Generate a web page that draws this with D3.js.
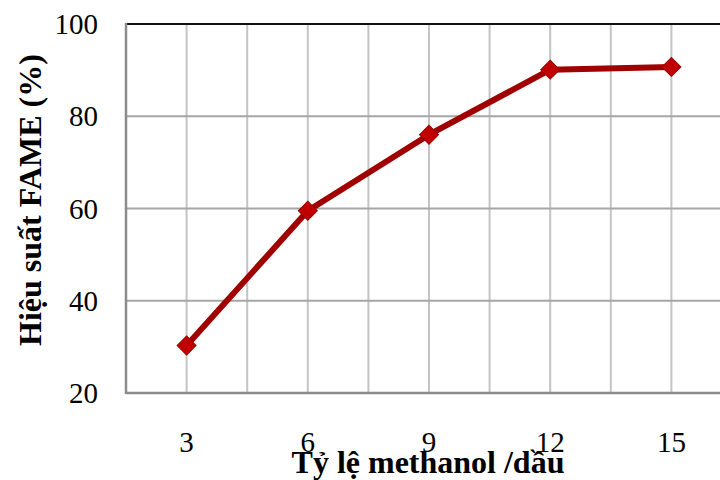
<!DOCTYPE html>
<html>
<head>
<meta charset="utf-8">
<script src="https://cdn.jsdelivr.net/npm/d3@7"></script>
<style>
  html, body { margin: 0; padding: 0; background: #fff; }
  svg { display: block; font-family: "Liberation Serif", "Times New Roman", serif; }
</style>
</head>
<body>
<svg id="chart" width="720" height="480"></svg>
<script>
// Methanol/oil molar ratio vs FAME yield
const ratios = ["3", "6", "9", "12", "15"];
const yieldValues = [30.3, 59.5, 76.0, 90.1, 90.7];
const yTicks = [20, 40, 60, 80, 100];
const xTitle = "Tỷ lệ methanol /dầu";
const yTitle = "Hiệu suất FAME (%)";

const svg = d3.select("#chart");
const plotLeft = 126, plotRight = 732, plotTop = 24, plotBottom = 393;

const x = d3.scaleBand().domain(ratios).range([plotLeft, plotRight]).padding(0);
const bw = x.bandwidth();
const cx = d => x(d) + bw / 2;
const y = d3.scaleLinear().domain([20, 100]).range([plotBottom, plotTop]);

// vertical gridlines at category centres and band edges
const vLines = [];
ratios.forEach(r => { vLines.push(x(r)); vLines.push(cx(r)); });
vLines.push(plotRight);
svg.append("g").selectAll("line").data(vLines.filter(v => v > plotLeft)).join("line")
  .attr("x1", d => d).attr("x2", d => d)
  .attr("y1", plotTop).attr("y2", plotBottom)
  .attr("stroke", "#c4c4c4").attr("stroke-width", 2);

// horizontal gridlines
svg.append("g").selectAll("line").data(yTicks.filter(t => t > 20 && t < 100)).join("line")
  .attr("x1", plotLeft).attr("x2", plotRight)
  .attr("y1", d => y(d)).attr("y2", d => y(d))
  .attr("stroke", "#a6a6a6").attr("stroke-width", 2);

// top border
svg.append("line")
  .attr("x1", plotLeft).attr("x2", plotRight)
  .attr("y1", y(100)).attr("y2", y(100))
  .attr("stroke", "#111").attr("stroke-width", 2);

// axes lines
svg.append("line")
  .attr("x1", plotLeft).attr("x2", plotLeft).attr("y1", plotTop - 1).attr("y2", plotBottom + 1)
  .attr("stroke", "#8c8c8c").attr("stroke-width", 2.5);
svg.append("line")
  .attr("x1", plotLeft).attr("x2", plotRight).attr("y1", plotBottom).attr("y2", plotBottom)
  .attr("stroke", "#8c8c8c").attr("stroke-width", 2.5);

// y tick labels
svg.append("g").selectAll("text").data(yTicks).join("text")
  .attr("x", 98).attr("y", d => y(d))
  .attr("text-anchor", "end").attr("dominant-baseline", "central")
  .attr("font-size", 29).attr("fill", "#000")
  .text(d => d);

// x tick labels
svg.append("g").selectAll("text").data(ratios).join("text")
  .attr("x", d => cx(d)).attr("y", 452)
  .attr("text-anchor", "middle")
  .attr("font-size", 29).attr("fill", "#000")
  .text(d => d);

// axis titles
svg.append("text")
  .attr("x", 428).attr("y", 473)
  .attr("text-anchor", "middle")
  .attr("font-size", 32).attr("font-weight", "bold")
  .text(xTitle);
svg.append("text")
  .attr("transform", "translate(41,200) rotate(-90)")
  .attr("text-anchor", "middle")
  .attr("font-size", 32).attr("font-weight", "bold")
  .text(yTitle);

// series line
const line = d3.line().x((d, i) => cx(ratios[i])).y(d => y(d));
svg.append("path").datum(yieldValues)
  .attr("d", line)
  .attr("fill", "none").attr("stroke", "#a00000").attr("stroke-width", 6)
  .attr("stroke-linejoin", "round");

// diamond markers
const sym = d3.symbol().type(d3.symbolSquare).size(180);
svg.append("g").selectAll("path").data(yieldValues).join("path")
  .attr("d", sym)
  .attr("transform", (d, i) => `translate(${cx(ratios[i])},${y(d)}) rotate(45)`)
  .attr("fill", "#c00000").attr("stroke", "#a00000").attr("stroke-width", 1);
</script>
</body>
</html>
